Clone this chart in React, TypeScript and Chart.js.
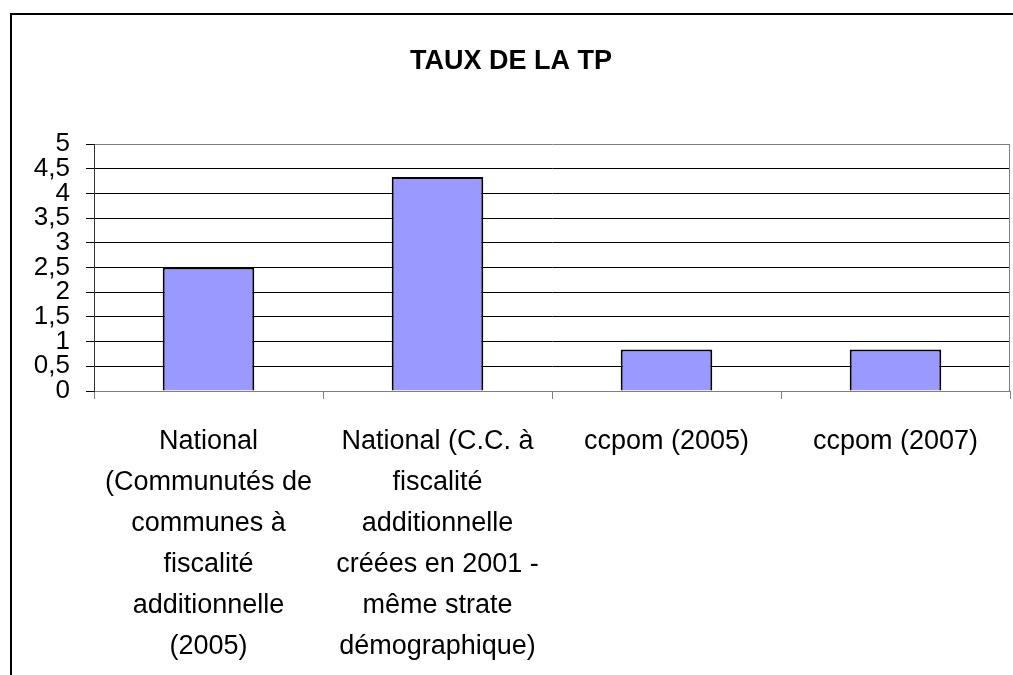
import React, { useEffect, useRef } from "react";
import { Chart, registerables } from "chart.js";

Chart.register(...registerables);

const TITLE = "TAUX DE LA TP";
const CATEGORIES: string[][] = [
  ["National", "(Communutés de", "communes à", "fiscalité", "additionnelle", "(2005)"],
  ["National (C.C. à", "fiscalité", "additionnelle", "créées en 2001 -", "même strate", "démographique)"],
  ["ccpom (2005)"],
  ["ccpom (2007)"],
];
const VALUES: number[] = [2.5, 4.33, 0.84, 0.84];
const Y_MIN = 0;
const Y_MAX = 5;
const Y_STEP = 0.5;

const FONT = "'Liberation Sans', Arial, sans-serif";
const CANVAS_W = 1014;
const CANVAS_H = 700;

const plotBorder = {
  id: "plotBorder",
  beforeDatasetsDraw(chart: any) {
    const { ctx, chartArea } = chart;
    const { top, right, bottom } = chartArea;
    ctx.save();
    ctx.strokeStyle = "#808080";
    ctx.lineWidth = 1;
    ctx.beginPath();
    ctx.moveTo(Math.round(right) - 0.5, Math.round(top));
    ctx.lineTo(Math.round(right) - 0.5, Math.round(bottom));
    ctx.stroke();
    ctx.restore();
  },
};

export default function App() {
  const ref = useRef<HTMLCanvasElement | null>(null);

  useEffect(() => {
    if (!ref.current) return;
    const chart = new Chart(ref.current, {
      type: "bar",
      data: {
        labels: CATEGORIES,
        datasets: [
          {
            data: VALUES,
            backgroundColor: "#9999FF",
            borderColor: "#000000",
            borderWidth: 2,
            barPercentage: 0.4,
            categoryPercentage: 1.0,
          },
        ],
      },
      options: {
        responsive: false,
        animation: false,
        devicePixelRatio: 1,
        layout: { padding: { left: 0, right: 16, top: 0, bottom: 0 } },
        plugins: {
          legend: { display: false },
          tooltip: { enabled: false },
          title: {
            display: true,
            text: TITLE,
            color: "#000",
            font: { family: FONT, size: 27, weight: "bold", lineHeight: 1.2 },
            padding: { top: 30.5, bottom: 66.1 },
          },
        },
        scales: {
          x: {
            type: "category",
            afterFit: (scale: any) => {
              scale.height = CANVAS_H - 376;
            },
            grid: {
              offset: true,
              drawOnChartArea: false,
              drawTicks: true,
              tickLength: 8,
              color: "#808080",
            },
            border: { display: true, color: "#808080", width: 1 },
            ticks: {
              color: "#000",
              padding: 22,
              maxRotation: 0,
              autoSkip: false,
              font: { family: FONT, size: 27, lineHeight: 1.52 },
            },
          },
          y: {
            type: "linear",
            min: Y_MIN,
            max: Y_MAX,
            afterFit: (scale: any) => {
              scale.width = 82;
            },
            grid: {
              color: (ctx: any) =>
                ctx.tick && (ctx.tick.value === Y_MAX || ctx.tick.value === Y_MIN) ? "#808080" : "#000000",
              tickColor: "#000000",
              tickLength: 8,
              lineWidth: 1,
            },
            border: { display: true, color: "#333333", width: 1 },
            ticks: {
              stepSize: Y_STEP,
              autoSkip: false,
              color: "#000",
              padding: 16,
              font: { family: FONT, size: 26 },
              callback: (v: any) => String(Number(v)).replace(".", ","),
            },
          },
        },
      },
      plugins: [plotBorder],
    });
    return () => chart.destroy();
  }, []);

  return (
    <div
      style={{
        position: "fixed",
        left: 0,
        top: 0,
        width: 1013,
        height: 675,
        overflow: "hidden",
        background: "#fff",
      }}
    >
      <div
        style={{
          position: "absolute",
          left: 10,
          top: 13,
          border: "2px solid #000",
          width: CANVAS_W,
          height: CANVAS_H,
          background: "#fff",
        }}
      >
        <canvas ref={ref} width={CANVAS_W} height={CANVAS_H} style={{ display: "block" }} />
      </div>
    </div>
  );
}
